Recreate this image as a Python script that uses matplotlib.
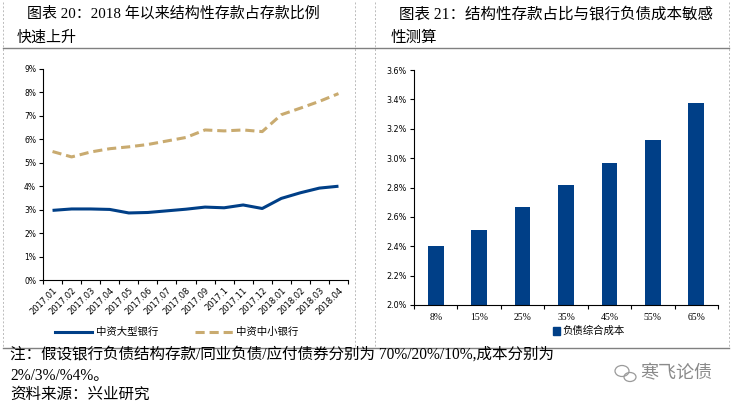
import matplotlib
matplotlib.use("Agg")
import matplotlib.pyplot as plt
from matplotlib.lines import Line2D
from matplotlib.patches import Ellipse
import numpy as np

plt.rcParams['font.family'] = ['Liberation Serif', 'Noto Sans CJK SC', 'DejaVu Sans']

# ---------------- data ----------------
months = ["2017.01", "2017.02", "2017.03", "2017.04", "2017.05", "2017.06", "2017.07",
          "2017.08", "2017.09", "2017.1", "2017.11", "2017.12", "2018.01", "2018.02",
          "2018.03", "2018.04"]
large_banks = [2.97, 3.03, 3.03, 3.01, 2.86, 2.88, 2.95, 3.02, 3.11, 3.08, 3.20, 3.05,
               3.48, 3.72, 3.92, 4.00]
small_banks = [5.48, 5.25, 5.46, 5.60, 5.68, 5.78, 5.93, 6.08, 6.40, 6.36, 6.40, 6.33,
               7.05, 7.33, 7.62, 7.95]
left_yticks = [0, 1, 2, 3, 4, 5, 6, 7, 8, 9]

share_cats = ["8%", "15%", "25%", "35%", "45%", "55%", "65%"]
cost_vals = [2.405, 2.51, 2.665, 2.82, 2.97, 3.125, 3.375]
right_yticks = [2.0, 2.2, 2.4, 2.6, 2.8, 3.0, 3.2, 3.4, 3.6]

title_left = ["图表 20：2018 年以来结构性存款占存款比例", "快速上升"]
title_right = ["图表 21：结构性存款占比与银行负债成本敏感", "性测算"]
legend_left = ["中资大型银行", "中资中小银行"]
legend_right = "负债综合成本"
notes = ["注：假设银行负债结构存款/同业负债/应付债券分别为 70%/20%/10%,成本分别为",
         "2%/3%/%4%。",
         "资料来源：兴业研究"]
watermark = "寒飞论债"

BLUE = "#003f87"
GOLD = "#c9ab70"
W, H = 733, 405

fig = plt.figure(figsize=(W / 100, H / 100), dpi=100)

def fx(px):
    return px / W

def fy(py):
    return 1 - py / H

# frame lines
for x in [3, 355, 375, 729]:
    fig.add_artist(Line2D([fx(x), fx(x)], [fy(2), fy(348)], color="#bbbbbb",
                          lw=0.7, ls=(0, (2, 2))))
for y in [48, 348]:
    fig.add_artist(Line2D([fx(3), fx(729)], [fy(y), fy(y)], color="#808080", lw=1.0))

# titles
fig.text(fx(27), fy(14), title_left[0], fontsize=10.8, va="center", ha="left")
fig.text(fx(17), fy(38), title_left[1], fontsize=10.8, va="center", ha="left")
fig.text(fx(399), fy(14), title_right[0], fontsize=11.2, va="center", ha="left")
fig.text(fx(391), fy(38), title_right[1], fontsize=11.2, va="center", ha="left")

# ---------------- left chart ----------------
axL = fig.add_axes([fx(43), fy(280), fx(348) - fx(43), fy(69) - fy(280)])
x = np.arange(len(months))
axL.plot(x, large_banks, color=BLUE, lw=2.2, solid_capstyle="butt")
axL.plot(x, small_banks, color=GOLD, lw=2.2, ls=(0, (3, 1.6)))
axL.set_xlim(-0.5, len(months) - 0.5)
axL.set_ylim(0, 9)
axL.set_yticks(left_yticks)
axL.set_yticklabels([f"{v}%" for v in left_yticks], fontsize=5.5, family="DejaVu Sans")
axL.set_xticks(x)
axL.set_xticklabels(months, rotation=45, ha="right", va="top", fontsize=6,
                    rotation_mode="anchor", family="DejaVu Sans")
axL.set_xticks(np.arange(-0.5, len(months)), minor=True)
axL.tick_params(axis="x", which="major", length=0, pad=4)
axL.tick_params(axis="x", which="minor", length=3, direction="out", width=0.8)
axL.tick_params(axis="y", length=3, direction="out", width=0.8, pad=2)
for s in ["top", "right"]:
    axL.spines[s].set_visible(False)
for s in ["left", "bottom"]:
    axL.spines[s].set_linewidth(0.8)

# left legend
fig.add_artist(Line2D([fx(55), fx(92)], [fy(332), fy(332)], color=BLUE, lw=2.2))
fig.text(fx(96), fy(332), legend_left[0], fontsize=7.5, va="center", ha="left")
fig.add_artist(Line2D([fx(195), fx(235)], [fy(332), fy(332)], color=GOLD, lw=2.2,
                      ls=(0, (3, 1.6))))
fig.text(fx(236), fy(332), legend_left[1], fontsize=7.5, va="center", ha="left")

# ---------------- right chart ----------------
axR = fig.add_axes([fx(414), fy(305), fx(718) - fx(414), fy(70) - fy(305)])
xr = np.arange(len(share_cats))
axR.bar(xr, cost_vals, width=0.36, color=BLUE, label=legend_right)
axR.set_xlim(-0.5, len(share_cats) - 0.5)
axR.set_ylim(2.0, 3.6)
axR.set_yticks(right_yticks)
axR.set_yticklabels([f"{v:.1f}%" for v in right_yticks], fontsize=5.8, family="DejaVu Sans")
axR.set_xticks(xr)
axR.set_xticklabels(share_cats, fontsize=7)
axR.set_xticks(np.arange(-0.5, len(share_cats)), minor=True)
axR.tick_params(axis="x", which="major", length=0, pad=6)
axR.tick_params(axis="x", which="minor", length=3, direction="out", width=0.8)
axR.tick_params(axis="y", length=3, direction="out", width=0.8, pad=2)
for s in ["top", "right"]:
    axR.spines[s].set_visible(False)
for s in ["left", "bottom"]:
    axR.spines[s].set_linewidth(0.8)

# right legend
fig.add_artist(plt.Rectangle((fx(553), fy(335)), fx(7), fy(327) - fy(335), color=BLUE,
                             transform=fig.transFigure))
fig.text(fx(562), fy(331), legend_right, fontsize=7.5, va="center", ha="left")

# notes
fs_note = 11.2
fig.text(fx(10), fy(355), notes[0], fontsize=fs_note, va="center", ha="left")
fig.text(fx(10), fy(376), notes[1], fontsize=fs_note, va="center", ha="left")
fig.text(fx(10), fy(395), notes[2], fontsize=fs_note, va="center", ha="left")

# watermark (icon + text)
fig.add_artist(Ellipse((fx(622), fy(371)), fx(14), 11 / H, fill=False, ec="#9a9a9a", lw=0.9,
                       transform=fig.transFigure))
fig.add_artist(Ellipse((fx(630), fy(377)), fx(12), 9 / H, fill=False, ec="#9a9a9a", lw=0.9,
                       transform=fig.transFigure))
fig.text(fx(640), fy(374), watermark, fontsize=13, va="center", ha="left", color="#8a8a8a")

fig.savefig("out.png", dpi=100)
